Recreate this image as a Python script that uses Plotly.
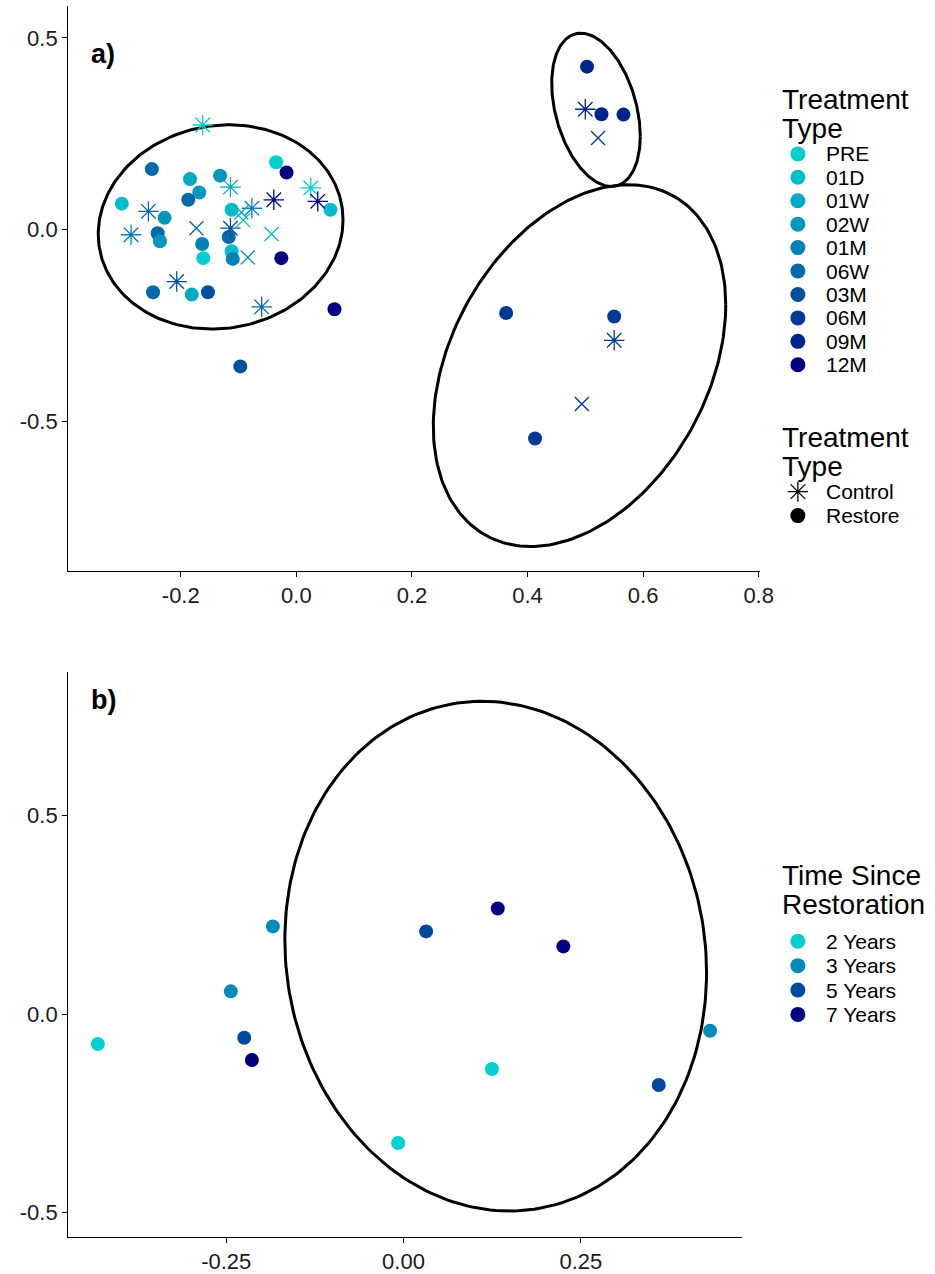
import numpy as np
import plotly.graph_objects as go

# ---------------- Panel a data ----------------
a_x = [-0.162, -0.250, -0.035, -0.017, -0.184, -0.132, -0.114, -0.168, -0.187, -0.302,
       -0.256, -0.228, -0.286, -0.240, -0.236, -0.173, -0.163, -0.161, -0.112, -0.077,
       -0.095, -0.092, -0.114, -0.117, -0.112, -0.110, -0.084, -0.039, 0.025, 0.037,
       0.059, -0.043, -0.026, -0.248, -0.207, -0.181, -0.153, -0.060, 0.066, -0.097,
       0.363, 0.550, 0.550, 0.494, 0.413,
       0.503, 0.500, 0.528, 0.566, 0.522]
a_y = [0.273, 0.158, 0.176, 0.149, 0.132, 0.141, 0.111, 0.097, 0.078, 0.068,
       0.048, 0.031, -0.013, -0.009, -0.030, 0.004, -0.037, -0.074, 0.052, 0.056,
       0.045, 0.025, 0.004, -0.019, -0.056, -0.076, -0.072, 0.078, 0.109, 0.074,
       0.052, -0.011, -0.074, -0.163, -0.135, -0.169, -0.163, -0.201, -0.207, -0.356,
       -0.217, -0.226, -0.288, -0.454, -0.544,
       0.425, 0.314, 0.301, 0.300, 0.239]
a_time = ["PRE", "06W", "PRE", "12M", "01W", "02W", "01W", "02W", "06W", "01D",
          "06W", "02W", "01M", "06W", "02W", "06W", "01M", "PRE", "01D", "01M",
          "01W", "01D", "03M", "06W", "01D", "01M", "01M", "12M", "PRE", "12M",
          "01D", "01D", "12M", "06W", "03M", "01W", "03M", "06W", "12M", "03M",
          "06M", "06M", "06M", "06M", "06M",
          "09M", "09M", "09M", "09M", "06M"]
# C = Control (asterisk), X = Control (cross), R = Restore
a_treat = ["C", "R", "R", "R", "R", "R", "C", "R", "R", "R",
           "C", "R", "C", "R", "R", "X", "R", "R", "R", "C",
           "X", "X", "C", "R", "R", "R", "X", "C", "C", "C",
           "R", "X", "R", "R", "C", "R", "R", "C", "R", "R",
           "R", "R", "C", "X", "R",
           "R", "C", "R", "R", "X"]
a_levels = ["PRE", "01D", "01W", "02W", "01M", "06W", "03M", "06M", "09M", "12M"]
a_shape_levels = ["Control", "Restore"]

# ellipses: centre x, centre y, var x, var y, cov xy (data units)
a_ell_cx = [-0.131, 0.490, 0.5185]
a_ell_cy = [0.0073, -0.354, 0.3125]
a_ell_sxx = [0.04485, 0.06403, 0.005869]
a_ell_syy = [0.07083, 0.2222, 0.0399]
a_ell_sxy = [0.003927, 0.0400, -0.005263]

# ---------------- Panel b data ----------------
b_x = [-0.431, -0.2435, -0.2246, -0.2138, 0.1247, -0.0076, 0.4323, 0.3599, -0.1842, 0.0319, 0.1329, 0.2254]
b_y = [-0.0756, 0.0572, -0.0597, -0.1159, -0.1385, -0.325, -0.042, -0.1788, 0.2209, 0.2083, 0.2662, 0.1705]
b_time = ["2 Years", "3 Years", "5 Years", "7 Years", "2 Years", "2 Years", "3 Years", "5 Years",
          "3 Years", "5 Years", "7 Years", "7 Years"]
b_levels = ["2 Years", "3 Years", "5 Years", "7 Years"]
b_ell_cx = [0.130]
b_ell_cy = [0.146]
b_ell_sxx = [0.0884]
b_ell_syy = [0.4126]
b_ell_sxy = [-0.01225]

# ---------------- styles ----------------
a_colors = {"PRE": "#00CED1", "01D": "#00BCCC", "01W": "#00A9C6", "02W": "#0096BE",
            "01M": "#0082B6", "06W": "#006AAA", "03M": "#00509F", "06M": "#003A96",
            "09M": "#00248C", "12M": "#000080"}
b_colors = {"2 Years": "#00CED1", "3 Years": "#008BBA", "5 Years": "#0047A0", "7 Years": "#000080"}
FONT = "Liberation Sans, Arial, sans-serif"
W, H = 935, 1274
WE = 920  # effective rendered width used for paper-fraction conversion

fig = go.Figure()


def ellipse(cx, cy, sxx, syy, sxy, xa, ya):
    L = np.linalg.cholesky(np.array([[sxx, sxy], [sxy, syy]]))
    t = np.linspace(0, 2 * np.pi, 241)
    pts = L @ np.vstack([np.cos(t), np.sin(t)])
    fig.add_trace(go.Scatter(x=cx + pts[0], y=cy + pts[1], mode="lines",
                             line=dict(color="black", width=3), xaxis=xa, yaxis=ya,
                             showlegend=False, hoverinfo="skip"))


for i in range(len(a_ell_cx)):
    ellipse(a_ell_cx[i], a_ell_cy[i], a_ell_sxx[i], a_ell_syy[i], a_ell_sxy[i], "x", "y")
for i in range(len(b_ell_cx)):
    ellipse(b_ell_cx[i], b_ell_cy[i], b_ell_sxx[i], b_ell_syy[i], b_ell_sxy[i], "x2", "y2")

sym = {"C": "asterisk-open", "X": "x-thin-open", "R": "circle"}
for code in ["R", "C", "X"]:
    idx = [i for i, t in enumerate(a_treat) if t == code]
    cols = [a_colors[a_time[i]] for i in idx]
    if code == "R":
        mk = dict(symbol="circle", size=14, color=cols, line=dict(width=0))
    else:
        mk = dict(symbol=sym[code], size=17 if code == "C" else 14, color=cols,
                  line=dict(color=cols, width=1.3))
    fig.add_trace(go.Scatter(x=[a_x[i] for i in idx], y=[a_y[i] for i in idx], mode="markers",
                             marker=mk, xaxis="x", yaxis="y", showlegend=False))

fig.add_trace(go.Scatter(x=b_x, y=b_y, mode="markers",
                         marker=dict(symbol="circle", size=14, color=[b_colors[t] for t in b_time]),
                         xaxis="x2", yaxis="y2", showlegend=False))

# ---------------- manual legends (overlay pixel axis) ----------------
annotations = []
leg_x_title, leg_x_key, leg_x_text = 780, 797, 824
TITLE_SIZE, ITEM_SIZE = 28, 21


def legend_block(title_lines, title_y, labels, item_y0, step, colors, symbols):
    for k, line in enumerate(title_lines):
        annotations.append(dict(text=line, x=leg_x_title / WE, y=1 - (title_y + 29 * k) / H,
                                xref="paper", yref="paper", xanchor="left", yanchor="middle",
                                showarrow=False, borderpad=0,
                                font=dict(family=FONT, size=TITLE_SIZE, color="black")))
    ys = [item_y0 + step * k for k in range(len(labels))]
    for k, lab in enumerate(labels):
        annotations.append(dict(text=lab, x=leg_x_text / WE, y=1 - ys[k] / H,
                                xref="paper", yref="paper", xanchor="left", yanchor="middle",
                                showarrow=False, borderpad=0,
                                font=dict(family=FONT, size=ITEM_SIZE, color="black")))
        s = symbols[k]
        mk = dict(symbol=s, size=15 if s == "circle" else 17, color=colors[k])
        if s != "circle":
            mk["line"] = dict(color=colors[k], width=1.3)
        fig.add_trace(go.Scatter(x=[leg_x_key], y=[ys[k]], mode="markers", marker=mk,
                                 xaxis="x3", yaxis="y3", showlegend=False, hoverinfo="skip"))


legend_block(["Treatment", "Type"], 100, a_levels, 154, 23.45,
             [a_colors[l] for l in a_levels], ["circle"] * len(a_levels))
legend_block(["Treatment", "Type"], 438, a_shape_levels, 492, 24,
             ["black", "black"], ["asterisk-open", "circle"])
legend_block(["Time Since", "Restoration"], 876, b_levels, 942, 24.4,
             [b_colors[l] for l in b_levels], ["circle"] * len(b_levels))

annotations += [
    dict(text="<b>a)</b>", x=89 / WE, y=1 - 54 / H, xref="paper", yref="paper",
         xanchor="left", yanchor="middle", showarrow=False, font=dict(family=FONT, size=27)),
    dict(text="<b>b)</b>", x=89 / WE, y=1 - 701 / H, xref="paper", yref="paper",
         xanchor="left", yanchor="middle", showarrow=False, font=dict(family=FONT, size=27)),
]

axis_common = dict(showline=True, linecolor="black", linewidth=1, ticks="outside", ticklen=5,
                   tickcolor="black", tickwidth=1, showgrid=False, zeroline=False,
                   tickfont=dict(family=FONT, size=22, color="#1a1a1a"))

fig.update_layout(
    width=W, height=H, autosize=False, margin=dict(l=0, r=0, t=0, b=0, pad=0),
    paper_bgcolor="white", plot_bgcolor="rgba(0,0,0,0)", showlegend=False,
    font=dict(family=FONT, size=18, color="black"),
    xaxis=dict(domain=[68 / WE, 759 / WE], range=[-0.395, 0.802],
               tickvals=[-0.2, 0.0, 0.2, 0.4, 0.6, 0.8],
               ticktext=["-0.2", "0.0", "0.2", "0.4", "0.6", "0.8"], anchor="y", **axis_common),
    yaxis=dict(domain=[1 - 571 / H, 1 - 6 / H], range=[-0.888, 0.583],
               tickvals=[-0.5, 0.0, 0.5], ticktext=["-0.5", "0.0", "0.5"], anchor="x", **axis_common),
    xaxis2=dict(domain=[68 / WE, 741 / WE], range=[-0.473, 0.477],
                tickvals=[-0.25, 0.0, 0.25], ticktext=["-0.25", "0.00", "0.25"], anchor="y2",
                **axis_common),
    yaxis2=dict(domain=[1 - 1238 / H, 1 - 673 / H], range=[-0.562, 0.861],
                tickvals=[-0.5, 0.0, 0.5], ticktext=["-0.5", "0.0", "0.5"], anchor="x2",
                **axis_common),
    xaxis3=dict(domain=[0, 1], range=[0, WE], visible=False, fixedrange=True, anchor="y3"),
    yaxis3=dict(domain=[0, 1], range=[H, 0], visible=False, fixedrange=True, anchor="x3"),
    annotations=annotations,
)

fig.write_html("out.html", config={"responsive": False, "displayModeBar": False},
               post_script="document.body.style.margin='0';document.body.style.overflow='hidden';")
